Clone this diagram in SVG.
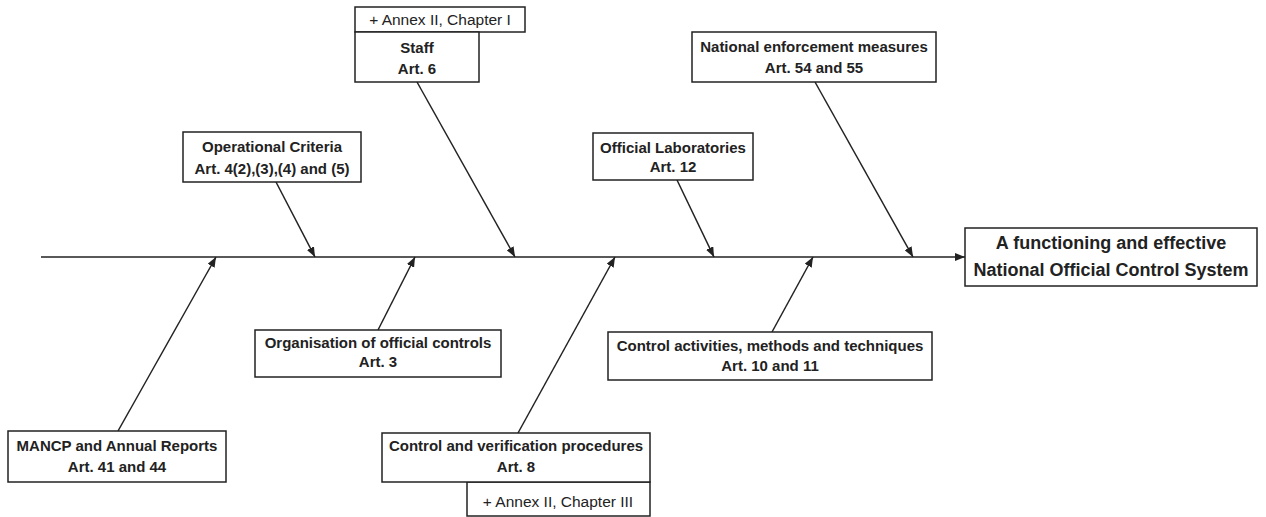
<svg xmlns="http://www.w3.org/2000/svg" width="1266" height="517" viewBox="0 0 1266 517">
  <style>
    .box { fill: #ffffff; stroke: #222222; stroke-width: 1.5; }
    .lbl { font-family: "Liberation Sans", Arial, sans-serif; font-size: 15px; font-weight: bold; fill: #222222; text-anchor: middle; }
    .note { font-family: "Liberation Sans", Arial, sans-serif; font-size: 15.5px; fill: #222222; text-anchor: middle; }
    .title { font-family: "Liberation Sans", Arial, sans-serif; font-size: 18px; font-weight: bold; fill: #222222; text-anchor: middle; }
    .wire { stroke: #222222; stroke-width: 1.5; fill: none; marker-end: url(#head); }
  </style>
  <defs>
    <marker id="head" viewBox="0 0 10 8" refX="10" refY="4" markerWidth="10" markerHeight="8" markerUnits="userSpaceOnUse" orient="auto">
      <path d="M0,0 L10,4 L0,8 Z" fill="#222222"/>
    </marker>
  </defs>

  <!-- connectors: spine and ribs -->
  <g id="connectors">
    <line class="wire" x1="41" y1="257" x2="965" y2="257"/>
    <line class="wire" x1="276" y1="182" x2="315" y2="257"/>
    <line class="wire" x1="417" y1="82" x2="515" y2="257"/>
    <line class="wire" x1="677" y1="180" x2="714" y2="257"/>
    <line class="wire" x1="815" y1="82" x2="913" y2="257"/>
    <line class="wire" x1="118" y1="431" x2="216" y2="257"/>
    <line class="wire" x1="378" y1="330" x2="415" y2="257"/>
    <line class="wire" x1="518" y1="433" x2="615" y2="257"/>
    <line class="wire" x1="772" y1="332" x2="813" y2="257"/>
  </g>

  <g id="goal">
    <rect class="box" x="965" y="228" width="292" height="58"/>
    <text class="title" x="1111" y="249">A functioning and effective</text>
    <text class="title" x="1111" y="276">National Official Control System</text>
  </g>

  <g id="staff">
    <rect class="box" x="355" y="7" width="170" height="25"/>
    <text class="note" x="440" y="25">+ Annex II, Chapter I</text>
    <rect class="box" x="355" y="32" width="124" height="50"/>
    <text class="lbl" x="417" y="53">Staff</text>
    <text class="lbl" x="417" y="74">Art. 6</text>
  </g>

  <g id="operational-criteria">
    <rect class="box" x="183" y="132" width="178" height="50"/>
    <text class="lbl" x="272" y="152">Operational Criteria</text>
    <text class="lbl" x="272" y="174">Art. 4(2),(3),(4) and (5)</text>
  </g>

  <g id="official-laboratories">
    <rect class="box" x="593" y="133" width="160" height="47"/>
    <text class="lbl" x="673" y="153">Official Laboratories</text>
    <text class="lbl" x="673" y="172">Art. 12</text>
  </g>

  <g id="enforcement">
    <rect class="box" x="692" y="32" width="244" height="50"/>
    <text class="lbl" x="814" y="52">National enforcement measures</text>
    <text class="lbl" x="814" y="73">Art. 54 and 55</text>
  </g>

  <g id="mancp">
    <rect class="box" x="8" y="431" width="218" height="51"/>
    <text class="lbl" x="117" y="451">MANCP and Annual Reports</text>
    <text class="lbl" x="117" y="472">Art. 41 and 44</text>
  </g>

  <g id="organisation">
    <rect class="box" x="255" y="330" width="246" height="47"/>
    <text class="lbl" x="378" y="348">Organisation of official controls</text>
    <text class="lbl" x="378" y="367">Art. 3</text>
  </g>

  <g id="verification">
    <rect class="box" x="467" y="482" width="183" height="34"/>
    <text class="note" x="558" y="507">+ Annex II, Chapter III</text>
    <rect class="box" x="382" y="433" width="268" height="49"/>
    <text class="lbl" x="516" y="451">Control and verification procedures</text>
    <text class="lbl" x="516" y="472">Art. 8</text>
  </g>

  <g id="control-activities">
    <rect class="box" x="608" y="332" width="324" height="48"/>
    <text class="lbl" x="770" y="351">Control activities, methods and techniques</text>
    <text class="lbl" x="770" y="371">Art. 10 and 11</text>
  </g>
</svg>
